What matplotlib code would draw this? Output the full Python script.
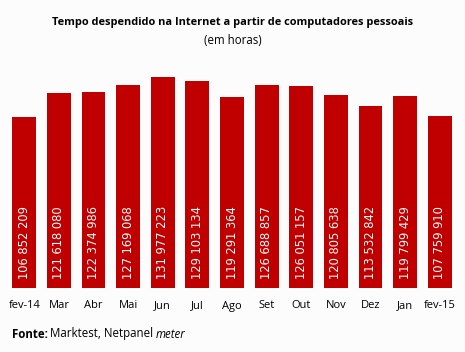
import matplotlib.pyplot as plt

# Data
months = ["fev-14", "Mar", "Abr", "Mai", "Jun", "Jul", "Ago", "Set", "Out", "Nov", "Dez", "Jan", "fev-15"]
hours = [106852209, 121618080, 122374986, 127169068, 131977223, 129103134, 119291364,
         126688857, 126051157, 120805638, 113532842, 119799429, 107759910]

fig = plt.figure(figsize=(4.65, 3.52), dpi=100, facecolor="#fcfcfc")
ax = fig.add_axes([7 / 465, 64 / 352, 450 / 465, 224 / 352])
ax.set_facecolor("#fcfcfc")

x = range(len(months))
ax.bar(x, hours, width=0.69, color="#c00000")

for i, v in enumerate(hours):
    label = f"{v:,}".replace(",", " ")
    ax.text(i, 5.5e6, label, rotation=90, ha="center", va="bottom",
            color="white", fontsize=8.3, family="DejaVu Sans")

ax.set_xlim(-0.5, len(months) - 0.5)
ax.set_ylim(0, 140e6)
ax.set_xticks(list(x))
ax.set_xticklabels(months, fontsize=8, family="Open Sans")
ax.tick_params(axis="x", length=0, pad=9)
ax.set_yticks([])
for s in ax.spines.values():
    s.set_visible(False)

fig.text(0.5, 1 - 22 / 352, "Tempo despendido na Internet a partir de computadores pessoais",
         ha="center", va="center", fontsize=7.9, fontweight="bold", family="Open Sans")
fig.text(0.5, 1 - 41 / 352, "(em horas)", ha="center", va="center", fontsize=8.3,
         family="Open Sans")

y_src = 1 - 334 / 352
fig.text(12 / 465, y_src, "Fonte:", ha="left", va="center", fontsize=8.3,
         fontweight="bold", family="Open Sans")
fig.text(50 / 465, y_src, "Marktest, Netpanel", ha="left", va="center",
         fontsize=8.3, family="Open Sans")
fig.text(156 / 465, y_src, "meter", ha="left", va="center", fontsize=8.3,
         style="italic", family="Open Sans")

fig.savefig("out.png", dpi=100, facecolor=fig.get_facecolor())
